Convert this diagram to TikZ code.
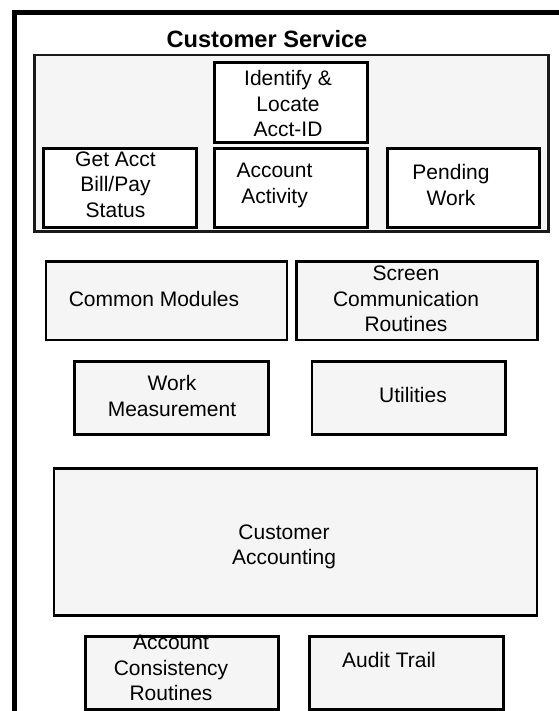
\documentclass[tikz,border=0pt]{standalone}
\usepackage{fontspec}
\setmainfont{Liberation Sans}
\definecolor{panelgray}{HTML}{F5F5F5}
\definecolor{edgegray}{HTML}{1A1A1A}
\tikzset{
  panel/.style={draw=edgegray, line width=2.5pt, fill=panelgray},
  whitebox/.style={draw=black, line width=3pt, fill=white},
  graybox/.style={draw=black, line width=2.5pt, fill=panelgray},
  boxtext/.style={align=center, inner sep=0pt,
    font=\fontsize{21}{25.5}\selectfont},
  titletext/.style={inner sep=0pt, font=\bfseries\fontsize{23.6}{28}\selectfont}
}
% place an empty box node from its two corners: name, style, x1, y1, x2, y2
\newcommand\cornerbox[6]{%
  \node[#2, inner sep=0pt, minimum width={#5-#3}, minimum height={#6-#4},
        anchor=north west] (#1) at (#3,#4) {};}
\begin{document}
\begin{tikzpicture}[x=1pt, y=-1pt]
\useasboundingbox (0,0) rectangle (558,711);
\fill[white] (0,0) rectangle (558,711);

% outer frame, running off the right and bottom edges
\coordinate (frameBL) at (14.5,730);
\coordinate (frameTL) at (14.5,12.5);
\coordinate (frameTR) at (580,12.5);
\draw[line width=5pt] (frameBL) -- (frameTL) -- (frameTR);

% Customer Service group
\node[titletext] (cstitle) at (267,39) {Customer Service};
\cornerbox{cspanel}{panel}{33}{54}{547}{230}
\cornerbox{identify}{whitebox}{212.5}{61}{365.5}{141}
\cornerbox{getacct}{whitebox}{42}{147}{195}{226}
\cornerbox{activity}{whitebox}{212.5}{147}{365.5}{226}
\cornerbox{pending}{whitebox}{386}{147}{538}{226}
\node[boxtext] (identifyT) at (288,103.5) {Identify \&\\Locate\\Acct-ID};
\node[boxtext] (getacctT) at (115.5,184.5) {Get Acct\\Bill/Pay\\Status};
\node[boxtext] (activityT) at (274.5,185.3) {Account\\Activity};
\node[boxtext] (pendingT) at (451,185) {Pending\\Work};

% shared modules
\cornerbox{common}{graybox}{44.5}{260}{285.5}{338.5}
\cornerbox{screen}{graybox}{295}{260}{536}{338.5}
\cornerbox{workm}{graybox}{73}{360}{267}{433}
\cornerbox{utils}{graybox}{310.7}{360}{504}{433}
\node[boxtext] (commonT) at (154,299) {Common Modules};
\node[boxtext] (screenT) at (406,299) {Screen\\Communication\\Routines};
\node[boxtext] (workmT) at (172,396) {Work\\Measurement};
\node[boxtext] (utilsT) at (413,395) {Utilities};

% accounting
\cornerbox{custacct}{graybox}{52.7}{467}{535.6}{614}
\cornerbox{consist}{graybox}{84}{635}{277}{708}
\cornerbox{audit}{graybox}{308}{635}{502}{708}
\node[boxtext] (custacctT) at (284,546.8) {Customer\\Accounting};
\node[boxtext] (consistT) at (171,668) {Account\\Consistency\\Routines};
\node[boxtext] (auditT) at (389,660) {Audit Trail};
\end{tikzpicture}
\end{document}
